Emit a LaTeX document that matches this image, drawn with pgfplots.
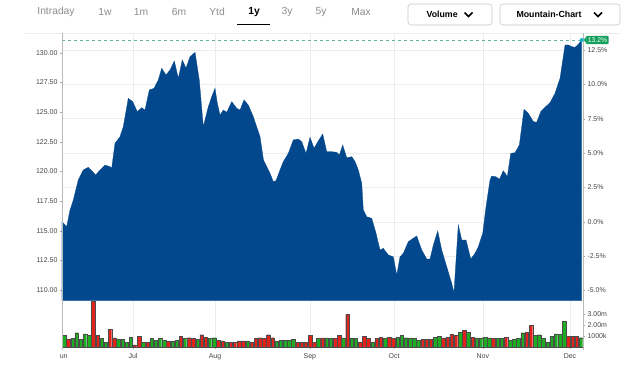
\documentclass[border=0pt]{standalone}
\usepackage{pgfplots}
\pgfplotsset{compat=1.18}
\usepackage{fontspec}
\setmainfont{Liberation Sans}
\definecolor{mblue}{RGB}{3,72,140}
\definecolor{vgreen}{RGB}{30,172,34}
\definecolor{vred}{RGB}{226,35,27}
\definecolor{tabgray}{RGB}{140,140,140}
\definecolor{ticklab}{RGB}{70,70,70}
\definecolor{dashc}{RGB}{100,178,165}
\definecolor{badge}{RGB}{18,160,90}
\definecolor{dotc}{RGB}{20,180,200}
\definecolor{gridc}{RGB}{236,236,236}
\pgfplotsset{every axis/.append style={scale only axis, width=521pt,
  font=\fontsize{7}{8}\selectfont, /pgf/number format/assume math mode=true,
  axis line style={draw=none}, tick align=outside, major tick length=2pt,
  tick style={gray!70, line width=0.4pt}, ticklabel style={text=ticklab},
  grid style={gridc, line width=0.5pt}}}
\begin{document}
\begin{tikzpicture}[x=1pt,y=1pt]
\path (0,0) rectangle (640,365);
% top bar
\begin{scope}[every node/.style={font=\fontsize{10.3}{12}\selectfont, text=tabgray}]
\node at (56,353) {Intraday};
\node at (105,353) {1w};
\node at (141,353) {1m};
\node at (179,353) {6m};
\node at (217,353) {Ytd};
\node[text=black, font=\fontsize{10.3}{12}\selectfont\bfseries] at (254,353) {1y};
\node at (287,353) {3y};
\node at (321,353) {5y};
\node at (361,353) {Max};
\end{scope}
\draw[line width=1.4pt] (237,340.5) -- (270,340.5);
\draw[gray!45, line width=0.6pt, rounded corners=3pt] (408,340) rectangle (492,361);
\node[font=\fontsize{8.8}{10}\selectfont\bfseries, anchor=west] at (423,350.5) {Volume};
\draw[line width=1.5pt] (464.5,352.5) -- (468.5,348.5) -- (472.5,352.5);
\draw[gray!45, line width=0.6pt, rounded corners=3pt] (500,340) rectangle (620,361);
\node[font=\fontsize{8.8}{10}\selectfont\bfseries, anchor=west] at (513,350.5) {Mountain-Chart};
\draw[line width=1.5pt] (594,352.5) -- (598,348.5) -- (602,352.5);
\draw[gray!15, line width=0.6pt] (25,332) -- (620,332);

% percent axis (right ticks, grid)
\begin{axis}[at={(62pt,64.3pt)}, anchor=south west, height=267.7pt,
  xmin=0, xmax=128, ymin=-5.745, ymax=13.74,
  xtick={0,17.44,37.6,60.9,81.6,103.4,124.8}, xticklabels={}, xmajorticks=false, xmajorgrids,
  ytick={-5,-2.5,0,2.5,5,7.5,10,12.5}, ytick pos=right, yticklabel pos=right, ymajorgrids,
  yticklabel={\pgfmathprintnumber[fixed,fixed zerofill,precision=1]{\tick}\%},
  yticklabel style={xshift=-1pt}]
\addplot[draw=none] coordinates {(0,0)};
\end{axis}

% price axis (left ticks, area)
\begin{axis}[at={(62pt,64.3pt)}, anchor=south west, height=267.7pt,
  xmin=0, xmax=128, ymin=109.11, ymax=131.66,
  xtick=\empty, ytick={110,112.5,115,117.5,120,122.5,125,127.5,130},
  ytick pos=left, yticklabel pos=left,
  yticklabel={\pgfmathprintnumber[fixed,fixed zerofill,precision=2]{\tick}},
  yticklabel style={xshift=1pt}]
\addplot[fill=mblue, draw=mblue, line width=0.3pt] coordinates {
(0,115.76)(1.15,115.34)(1.97,116.75)(2.78,117.59)(4.0,119.28)(5.23,120.12)(6.46,120.35)
(8.28,119.70)(9.34,120.12)(10.57,120.54)(11.79,120.40)(12.21,120.26)(13.02,122.37)
(14.25,122.92)(15.06,123.77)(16.29,126.16)(17.37,125.87)(18.5,125.03)(19.58,125.37)
(20.39,125.17)(21.45,126.86)(22.6,127.00)(23.66,127.70)(24.5,128.69)(25.55,128.12)
(26.54,128.54)(27.59,129.30)(28.57,127.84)(29.56,129.39)(30.47,128.69)(31.45,129.66)
(32.68,130.03)(33.73,127.70)(34.71,123.77)(35.95,125.45)(36.78,126.29)(37.59,127.00)
(38.16,125.74)(38.82,124.75)(39.63,125.17)(40.47,124.98)(41.7,125.87)(42.92,125.32)
(43.73,125.17)(44.72,126.02)(45.77,125.59)(47.0,124.61)(48.65,122.92)(49.5,120.96)
(51.1,119.84)(51.92,119.13)(52.58,119.22)(53.56,120.12)(54.37,120.82)(55.6,121.52)
(56.83,122.65)(58.06,122.73)(58.89,122.50)(59.95,121.52)(60.93,122.87)(61.92,121.95)
(62.97,122.56)(64.05,123.15)(65.04,121.66)(66.27,121.66)(67.49,121.61)(68.13,121.38)
(68.97,122.22)(69.95,121.15)(71.18,121.24)(72.0,120.82)(72.8,120.12)(73.64,119.00)
(74.03,116.75)(74.87,116.18)(76.09,116.05)(77.15,114.79)(78.13,113.38)(78.94,113.52)
(80.17,112.96)(81.4,112.81)(82.24,111.27)(83.05,112.81)(83.86,113.10)(85.09,114.08)
(85.92,114.28)(87.15,114.56)(88.38,113.38)(89.61,112.62)(90.42,112.62)(91.23,113.80)
(92.31,114.98)(93.29,113.38)(94.52,111.97)(95.75,110.57)(96.31,109.81)(96.81,112.54)
(97.37,115.48)(98.21,114.22)(99.26,114.22)(100.42,112.62)(101.47,113.10)(102.29,113.66)
(103.37,114.79)(104.18,117.03)(105.16,119.28)(105.58,119.61)(106.63,119.55)(107.44,119.33)
(108.43,120.06)(109.41,119.57)(110.25,121.52)(111.3,121.58)(112.36,122.22)(113.51,125.23)
(114.57,124.89)(115.8,124.19)(116.63,124.14)(117.62,125.03)(118.67,125.40)(119.9,125.79)
(121.13,126.58)(122.36,127.84)(123.59,130.65)(124.4,130.65)(125.23,130.51)(126.04,130.45)
(126.86,130.71)(127.69,131.07)} \closedcycle;
\addplot[dashc, line width=0.6pt, dash pattern=on 3pt off 3pt] coordinates {(0,131.07)(127.69,131.07)};
\coordinate (lastpt) at (axis cs:127.69,131.07);
\end{axis}

% volume axis
\begin{axis}[at={(62pt,18pt)}, anchor=south west, height=46.3pt,
  xmin=-0.5, xmax=124.5, ymin=0, ymax=4.21,
  xtick={-0.5,16.53,36.22,58.97,79.19,100.48,121.38},
  xticklabels={\phantom{J}un,Jul,Aug,Sep,Oct,Nov,Dec}, xtick pos=bottom, xmajorgrids,
  xticklabel style={yshift=-1pt},
  ytick={1,2,3}, yticklabels={1000k,2.00m,3.00m}, ytick pos=right, yticklabel pos=right,
  yticklabel style={xshift=-1pt}]
\addplot[ybar, bar width=0.85, bar shift=0pt, fill=vgreen, draw=black!70, line width=0.3pt] coordinates {
(0,1.06)(2,0.76)(3,1.3)(4,0.7)(5,1.2)(6,1.06)(9,0.76)(10,0.4)(13,0.7)(14,0.7)(15,0.45)(16,0.9)
(19,0.45)(21,0.76)(22,0.6)(23,0.82)(24,0.6)(26,0.5)(27,0.6)(29,0.76)(32,0.67)(35,0.76)(36,0.85)
(39,0.45)(44,0.55)(51,0.55)(52,0.6)(53,0.6)(54,0.6)(55,0.67)(61,0.76)(63,0.82)(64,0.76)(67,0.82)
(69,0.82)(70,0.76)(74,0.45)(77,0.76)(80,0.9)(81,1.06)(82,0.85)(83,0.82)(84,0.76)(85,0.6)(89,0.9)
(90,1.0)(95,1.36)(97,1.36)(99,0.82)(100,0.82)(101,0.9)(102,0.82)(104,0.76)(105,0.82)(107,0.6)
(108,0.67)(109,0.76)(110,1.3)(113,1.06)(114,1.12)(115,0.76)(116,0.4)(117,1.0)(118,1.2)(119,1.15)
(120,2.33)(124,0.85)};
\addplot[ybar, bar width=0.85, bar shift=0pt, fill=vred, draw=black!70, line width=0.3pt] coordinates {
(1,0.7)(7,4.15)(8,1.06)(11,1.6)(12,0.82)(17,0.2)(18,1.0)(20,0.45)(25,0.5)(28,1.0)(30,0.85)(31,0.76)
(33,1.12)(34,0.9)(37,0.6)(38,0.55)(40,0.45)(41,0.45)(42,0.55)(43,0.55)(45,0.45)(46,0.76)(47,0.85)
(48,0.76)(49,1.12)(50,0.85)(56,0.45)(57,0.45)(58,0.45)(59,1.06)(60,0.45)(62,0.82)(65,0.76)(66,1.06)
(68,2.97)(71,0.45)(72,1.0)(73,0.76)(75,0.76)(76,0.9)(78,0.9)(79,0.76)(86,0.7)(87,0.67)(88,0.67)
(91,0.82)(92,0.9)(93,1.15)(94,1.06)(96,1.52)(98,0.9)(103,0.76)(106,0.9)(111,1.36)(112,1.97)
(121,1.0)(122,1.0)(123,1.0)};
\end{axis}

% frame lines
\draw[gray!55, line width=0.6pt] (62,15) -- (62,332);
\draw[gray!55, line width=0.6pt] (583,15) -- (583,332);
% badge
\fill[badge] ([xshift=2pt]lastpt) -- ([xshift=5pt,yshift=4pt]lastpt) -- ([xshift=5pt,yshift=-4pt]lastpt) -- cycle;
\node[fill=badge, text=white, font=\fontsize{6.8}{7}\selectfont, inner xsep=1.5pt, inner ysep=1.8pt,
  rounded corners=1pt, anchor=west] at ([xshift=4.5pt]lastpt) {13.2\%};
\fill[dotc] (lastpt) circle (2pt);
\end{tikzpicture}
\end{document}
